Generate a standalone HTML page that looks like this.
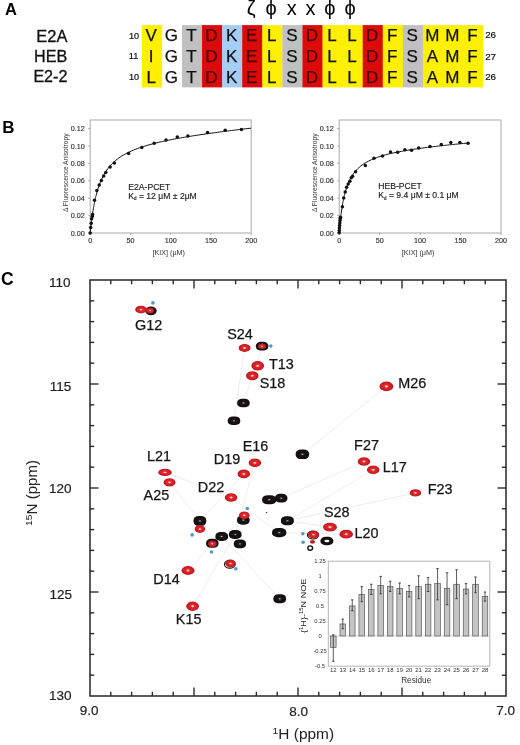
<!DOCTYPE html>
<html><head><meta charset="utf-8"><style>
html,body{margin:0;padding:0;background:#fff;width:520px;height:745px;overflow:hidden}
svg{display:block;filter:blur(0.45px)}
text{font-family:"Liberation Sans", sans-serif}
</style></head><body>
<svg width="520" height="745" viewBox="0 0 520 745">
<defs>
<radialGradient id="rg"><stop offset="0" stop-color="#fff4d0"/><stop offset="0.16" stop-color="#f4b0a0"/><stop offset="0.3" stop-color="#e42a30"/><stop offset="0.75" stop-color="#d41c24"/><stop offset="0.92" stop-color="#b8141c"/><stop offset="1" stop-color="#c83840"/></radialGradient>
<radialGradient id="bg"><stop offset="0" stop-color="#e0e0e0"/><stop offset="0.1" stop-color="#777"/><stop offset="0.25" stop-color="#221a1a"/><stop offset="0.45" stop-color="#181212"/><stop offset="1" stop-color="#120e0e"/></radialGradient>
</defs>
<rect width="520" height="745" fill="#fff"/>
<text x="4.95" y="14.70" font-size="16.5" font-weight="bold" fill="#000">A</text>
<rect x="141.80"  y="25.1" width="20.38" height="62.3" fill="#fff000"/>
<rect x="181.96"  y="25.1" width="20.38" height="62.3" fill="#c0c0c0"/>
<rect x="202.04"  y="25.1" width="20.38" height="62.3" fill="#dd0a0a"/>
<rect x="222.12"  y="25.1" width="20.38" height="62.3" fill="#a6cef5"/>
<rect x="242.20"  y="25.1" width="20.38" height="62.3" fill="#dd0a0a"/>
<rect x="262.28"  y="25.1" width="20.38" height="62.3" fill="#fff000"/>
<rect x="282.36"  y="25.1" width="20.38" height="62.3" fill="#c0c0c0"/>
<rect x="302.44"  y="25.1" width="20.38" height="62.3" fill="#dd0a0a"/>
<rect x="322.52"  y="25.1" width="20.38" height="62.3" fill="#fff000"/>
<rect x="342.60"  y="25.1" width="20.38" height="62.3" fill="#fff000"/>
<rect x="362.68"  y="25.1" width="20.38" height="62.3" fill="#dd0a0a"/>
<rect x="382.76"  y="25.1" width="20.38" height="62.3" fill="#fff000"/>
<rect x="402.84"  y="25.1" width="20.38" height="62.3" fill="#c0c0c0"/>
<rect x="422.92"  y="25.1" width="20.38" height="62.3" fill="#fff000"/>
<rect x="443.00"  y="25.1" width="20.38" height="62.3" fill="#fff000"/>
<rect x="463.08"  y="25.1" width="20.38" height="62.3" fill="#fff000"/>
<text x="151.24" y="41.3" font-size="17" text-anchor="middle" fill="#111" stroke="#111" stroke-width="0.25">V</text>
<text x="171.32" y="41.3" font-size="17" text-anchor="middle" fill="#111" stroke="#111" stroke-width="0.25">G</text>
<text x="191.40" y="41.3" font-size="17" text-anchor="middle" fill="#111" stroke="#111" stroke-width="0.25">T</text>
<text x="211.48" y="41.3" font-size="17" text-anchor="middle" fill="#440000" stroke="#440000" stroke-width="0.25">D</text>
<text x="231.56" y="41.3" font-size="17" text-anchor="middle" fill="#111" stroke="#111" stroke-width="0.25">K</text>
<text x="251.64" y="41.3" font-size="17" text-anchor="middle" fill="#440000" stroke="#440000" stroke-width="0.25">E</text>
<text x="271.72" y="41.3" font-size="17" text-anchor="middle" fill="#111" stroke="#111" stroke-width="0.25">L</text>
<text x="291.80" y="41.3" font-size="17" text-anchor="middle" fill="#111" stroke="#111" stroke-width="0.25">S</text>
<text x="311.88" y="41.3" font-size="17" text-anchor="middle" fill="#440000" stroke="#440000" stroke-width="0.25">D</text>
<text x="331.96" y="41.3" font-size="17" text-anchor="middle" fill="#111" stroke="#111" stroke-width="0.25">L</text>
<text x="352.04" y="41.3" font-size="17" text-anchor="middle" fill="#111" stroke="#111" stroke-width="0.25">L</text>
<text x="372.12" y="41.3" font-size="17" text-anchor="middle" fill="#440000" stroke="#440000" stroke-width="0.25">D</text>
<text x="392.20" y="41.3" font-size="17" text-anchor="middle" fill="#111" stroke="#111" stroke-width="0.25">F</text>
<text x="412.28" y="41.3" font-size="17" text-anchor="middle" fill="#111" stroke="#111" stroke-width="0.25">S</text>
<text x="432.36" y="41.3" font-size="17" text-anchor="middle" fill="#111" stroke="#111" stroke-width="0.25">M</text>
<text x="452.44" y="41.3" font-size="17" text-anchor="middle" fill="#111" stroke="#111" stroke-width="0.25">M</text>
<text x="472.52" y="41.3" font-size="17" text-anchor="middle" fill="#111" stroke="#111" stroke-width="0.25">F</text>
<text x="151.24" y="62.3" font-size="17" text-anchor="middle" fill="#111" stroke="#111" stroke-width="0.25">I</text>
<text x="171.32" y="62.3" font-size="17" text-anchor="middle" fill="#111" stroke="#111" stroke-width="0.25">G</text>
<text x="191.40" y="62.3" font-size="17" text-anchor="middle" fill="#111" stroke="#111" stroke-width="0.25">T</text>
<text x="211.48" y="62.3" font-size="17" text-anchor="middle" fill="#440000" stroke="#440000" stroke-width="0.25">D</text>
<text x="231.56" y="62.3" font-size="17" text-anchor="middle" fill="#111" stroke="#111" stroke-width="0.25">K</text>
<text x="251.64" y="62.3" font-size="17" text-anchor="middle" fill="#440000" stroke="#440000" stroke-width="0.25">E</text>
<text x="271.72" y="62.3" font-size="17" text-anchor="middle" fill="#111" stroke="#111" stroke-width="0.25">L</text>
<text x="291.80" y="62.3" font-size="17" text-anchor="middle" fill="#111" stroke="#111" stroke-width="0.25">S</text>
<text x="311.88" y="62.3" font-size="17" text-anchor="middle" fill="#440000" stroke="#440000" stroke-width="0.25">D</text>
<text x="331.96" y="62.3" font-size="17" text-anchor="middle" fill="#111" stroke="#111" stroke-width="0.25">L</text>
<text x="352.04" y="62.3" font-size="17" text-anchor="middle" fill="#111" stroke="#111" stroke-width="0.25">L</text>
<text x="372.12" y="62.3" font-size="17" text-anchor="middle" fill="#440000" stroke="#440000" stroke-width="0.25">D</text>
<text x="392.20" y="62.3" font-size="17" text-anchor="middle" fill="#111" stroke="#111" stroke-width="0.25">F</text>
<text x="412.28" y="62.3" font-size="17" text-anchor="middle" fill="#111" stroke="#111" stroke-width="0.25">S</text>
<text x="432.36" y="62.3" font-size="17" text-anchor="middle" fill="#111" stroke="#111" stroke-width="0.25">A</text>
<text x="452.44" y="62.3" font-size="17" text-anchor="middle" fill="#111" stroke="#111" stroke-width="0.25">M</text>
<text x="472.52" y="62.3" font-size="17" text-anchor="middle" fill="#111" stroke="#111" stroke-width="0.25">F</text>
<text x="151.24" y="83.3" font-size="17" text-anchor="middle" fill="#111" stroke="#111" stroke-width="0.25">L</text>
<text x="171.32" y="83.3" font-size="17" text-anchor="middle" fill="#111" stroke="#111" stroke-width="0.25">G</text>
<text x="191.40" y="83.3" font-size="17" text-anchor="middle" fill="#111" stroke="#111" stroke-width="0.25">T</text>
<text x="211.48" y="83.3" font-size="17" text-anchor="middle" fill="#440000" stroke="#440000" stroke-width="0.25">D</text>
<text x="231.56" y="83.3" font-size="17" text-anchor="middle" fill="#111" stroke="#111" stroke-width="0.25">K</text>
<text x="251.64" y="83.3" font-size="17" text-anchor="middle" fill="#440000" stroke="#440000" stroke-width="0.25">E</text>
<text x="271.72" y="83.3" font-size="17" text-anchor="middle" fill="#111" stroke="#111" stroke-width="0.25">L</text>
<text x="291.80" y="83.3" font-size="17" text-anchor="middle" fill="#111" stroke="#111" stroke-width="0.25">S</text>
<text x="311.88" y="83.3" font-size="17" text-anchor="middle" fill="#440000" stroke="#440000" stroke-width="0.25">D</text>
<text x="331.96" y="83.3" font-size="17" text-anchor="middle" fill="#111" stroke="#111" stroke-width="0.25">L</text>
<text x="352.04" y="83.3" font-size="17" text-anchor="middle" fill="#111" stroke="#111" stroke-width="0.25">L</text>
<text x="372.12" y="83.3" font-size="17" text-anchor="middle" fill="#440000" stroke="#440000" stroke-width="0.25">D</text>
<text x="392.20" y="83.3" font-size="17" text-anchor="middle" fill="#111" stroke="#111" stroke-width="0.25">F</text>
<text x="412.28" y="83.3" font-size="17" text-anchor="middle" fill="#111" stroke="#111" stroke-width="0.25">S</text>
<text x="432.36" y="83.3" font-size="17" text-anchor="middle" fill="#111" stroke="#111" stroke-width="0.25">A</text>
<text x="452.44" y="83.3" font-size="17" text-anchor="middle" fill="#111" stroke="#111" stroke-width="0.25">M</text>
<text x="472.52" y="83.3" font-size="17" text-anchor="middle" fill="#111" stroke="#111" stroke-width="0.25">F</text>
<text transform="translate(36.37,42.05) scale(1.027,1)" font-size="16" stroke="#111" stroke-width="0.3" fill="#111">E2A</text>
<text transform="translate(33.99,62.25) scale(1.012,1)" font-size="16" stroke="#111" stroke-width="0.3" fill="#111">HEB</text>
<text transform="translate(33.39,82.45) scale(1.006,1)" font-size="16" stroke="#111" stroke-width="0.3" fill="#111">E2-2</text>
<text x="128.95" y="38.65" font-size="9.2" stroke="#111" stroke-width="0.2" fill="#111">10</text>
<text x="128.75" y="59.35" font-size="9.2" stroke="#111" stroke-width="0.2" fill="#111">11</text>
<text x="128.95" y="80.35" font-size="9.2" stroke="#111" stroke-width="0.2" fill="#111">10</text>
<text x="485.15" y="38.40" font-size="9.8" stroke="#111" stroke-width="0.2" fill="#111">26</text>
<text x="485.15" y="59.50" font-size="9.8" stroke="#111" stroke-width="0.2" fill="#111">27</text>
<text x="485.15" y="80.40" font-size="9.8" stroke="#111" stroke-width="0.2" fill="#111">26</text>
<text x="251.2" y="15.0" font-size="20" text-anchor="middle">ζ</text>
<text x="271.2" y="15.0" font-size="20" text-anchor="middle">ϕ</text>
<text x="291.7" y="14.9" font-size="20" text-anchor="middle">x</text>
<text x="310.6" y="14.9" font-size="20" text-anchor="middle">x</text>
<text x="329.8" y="15.0" font-size="20" text-anchor="middle">ϕ</text>
<text x="350.0" y="15.0" font-size="20" text-anchor="middle">ϕ</text>
<text x="2.15" y="132.65" font-size="17" font-weight="bold" fill="#000">B</text>
<rect x="90.2" y="120" width="161.0" height="113" fill="none" stroke="#a8a8a8" stroke-width="1"/>
<line x1="90.20" y1="233" x2="90.20" y2="235" stroke="#a8a8a8" stroke-width="1"/>
<text x="90.20" y="243.0" font-size="7.2" text-anchor="middle" fill="#333" stroke="#333" stroke-width="0.15">0</text>
<line x1="130.45" y1="233" x2="130.45" y2="235" stroke="#a8a8a8" stroke-width="1"/>
<text x="130.45" y="243.0" font-size="7.2" text-anchor="middle" fill="#333" stroke="#333" stroke-width="0.15">50</text>
<line x1="170.70" y1="233" x2="170.70" y2="235" stroke="#a8a8a8" stroke-width="1"/>
<text x="170.70" y="243.0" font-size="7.2" text-anchor="middle" fill="#333" stroke="#333" stroke-width="0.15">100</text>
<line x1="210.95" y1="233" x2="210.95" y2="235" stroke="#a8a8a8" stroke-width="1"/>
<text x="210.95" y="243.0" font-size="7.2" text-anchor="middle" fill="#333" stroke="#333" stroke-width="0.15">150</text>
<line x1="251.20" y1="233" x2="251.20" y2="235" stroke="#a8a8a8" stroke-width="1"/>
<text x="251.20" y="243.0" font-size="7.2" text-anchor="middle" fill="#333" stroke="#333" stroke-width="0.15">200</text>
<line x1="88.2" y1="233.00" x2="90.2" y2="233.00" stroke="#a8a8a8" stroke-width="1"/>
<text x="84.80" y="235.60" font-size="7.2" text-anchor="end" fill="#333" stroke="#333" stroke-width="0.15">0.00</text>
<line x1="88.2" y1="215.60" x2="90.2" y2="215.60" stroke="#a8a8a8" stroke-width="1"/>
<text x="84.80" y="218.20" font-size="7.2" text-anchor="end" fill="#333" stroke="#333" stroke-width="0.15">0.02</text>
<line x1="88.2" y1="198.20" x2="90.2" y2="198.20" stroke="#a8a8a8" stroke-width="1"/>
<text x="84.80" y="200.80" font-size="7.2" text-anchor="end" fill="#333" stroke="#333" stroke-width="0.15">0.04</text>
<line x1="88.2" y1="180.80" x2="90.2" y2="180.80" stroke="#a8a8a8" stroke-width="1"/>
<text x="84.80" y="183.40" font-size="7.2" text-anchor="end" fill="#333" stroke="#333" stroke-width="0.15">0.06</text>
<line x1="88.2" y1="163.40" x2="90.2" y2="163.40" stroke="#a8a8a8" stroke-width="1"/>
<text x="84.80" y="166.00" font-size="7.2" text-anchor="end" fill="#333" stroke="#333" stroke-width="0.15">0.08</text>
<line x1="88.2" y1="146.00" x2="90.2" y2="146.00" stroke="#a8a8a8" stroke-width="1"/>
<text x="84.80" y="148.60" font-size="7.2" text-anchor="end" fill="#333" stroke="#333" stroke-width="0.15">0.10</text>
<line x1="88.2" y1="128.60" x2="90.2" y2="128.60" stroke="#a8a8a8" stroke-width="1"/>
<text x="84.80" y="131.20" font-size="7.2" text-anchor="end" fill="#333" stroke="#333" stroke-width="0.15">0.12</text>
<text x="168.70" y="255.0" font-size="7.2" text-anchor="middle" fill="#333">[KIX] (μM)</text>
<text transform="translate(67.5,172.8) rotate(-90)" font-size="7.0" textLength="78.5" lengthAdjust="spacingAndGlyphs" text-anchor="middle" fill="#333">Δ Fluorescence Anisotropy</text>
<polyline points="90.20,233.00 90.35,231.44 90.51,229.94 90.66,228.47 90.82,227.06 90.97,225.68 91.12,224.35 91.28,223.05 91.43,221.79 91.58,220.56 91.74,219.37 91.89,218.22 92.05,217.09 92.20,215.99 92.35,214.92 92.51,213.88 92.66,212.87 92.82,211.88 92.97,210.92 93.12,209.98 93.28,209.06 93.43,208.16 93.58,207.29 93.74,206.43 93.89,205.60 94.05,204.78 94.20,203.98 94.35,203.21 94.51,202.44 94.66,201.70 94.82,200.97 94.97,200.25 95.12,199.55 95.28,198.87 95.43,198.20 95.58,197.54 95.74,196.89 95.89,196.26 96.05,195.64 96.20,195.04 96.20,195.04 98.16,188.23 100.12,182.76 102.08,178.26 104.04,174.49 106.00,171.28 107.96,168.51 109.92,166.09 111.88,163.95 113.84,162.05 115.79,160.34 117.75,158.79 119.71,157.39 121.67,156.10 123.63,154.91 125.59,153.81 127.55,152.79 129.51,151.84 131.47,150.95 133.43,150.12 135.39,149.33 137.35,148.58 139.31,147.88 141.27,147.21 143.23,146.57 145.19,145.95 147.15,145.37 149.11,144.81 151.07,144.27 153.03,143.75 154.98,143.25 156.94,142.77 158.90,142.30 160.86,141.85 162.82,141.41 164.78,140.99 166.74,140.57 168.70,140.17 170.66,139.78 172.62,139.39 174.58,139.02 176.54,138.65 178.50,138.30 180.46,137.95 182.42,137.60 184.38,137.27 186.34,136.94 188.30,136.61 190.26,136.30 192.22,135.98 194.17,135.67 196.13,135.37 198.09,135.07 200.05,134.78 202.01,134.49 203.97,134.20 205.93,133.92 207.89,133.64 209.85,133.37 211.81,133.09 213.77,132.83 215.73,132.56 217.69,132.30 219.65,132.04 221.61,131.78 223.57,131.52 225.53,131.27 227.49,131.02 229.45,130.77 231.41,130.53 233.36,130.28 235.32,130.04 237.28,129.80 239.24,129.56 241.20,129.32 243.16,129.09 245.12,128.86 247.08,128.62 249.04,128.39 251.00,128.17" fill="none" stroke="#111" stroke-width="1"/>
<circle cx="90.2" cy="233" r="1.75" fill="#111"/>
<circle cx="90.7" cy="227.5" r="1.75" fill="#111"/>
<circle cx="91.2" cy="223.2" r="1.75" fill="#111"/>
<circle cx="91.6" cy="218.8" r="1.75" fill="#111"/>
<circle cx="92.3" cy="216.2" r="1.75" fill="#111"/>
<circle cx="92.6" cy="214.5" r="1.75" fill="#111"/>
<circle cx="94.5" cy="200.2" r="1.75" fill="#111"/>
<circle cx="96.8" cy="190.6" r="1.75" fill="#111"/>
<circle cx="99.2" cy="185.1" r="1.75" fill="#111"/>
<circle cx="101.4" cy="180.4" r="1.75" fill="#111"/>
<circle cx="103.7" cy="175.9" r="1.75" fill="#111"/>
<circle cx="105.8" cy="172.6" r="1.75" fill="#111"/>
<circle cx="110.1" cy="166.9" r="1.75" fill="#111"/>
<circle cx="114.4" cy="163.1" r="1.75" fill="#111"/>
<circle cx="128.6" cy="153.4" r="1.75" fill="#111"/>
<circle cx="141.8" cy="147.5" r="1.75" fill="#111"/>
<circle cx="154.2" cy="143.2" r="1.75" fill="#111"/>
<circle cx="166" cy="140.1" r="1.75" fill="#111"/>
<circle cx="177.3" cy="137.1" r="1.75" fill="#111"/>
<circle cx="187.9" cy="136" r="1.75" fill="#111"/>
<circle cx="207.6" cy="132.4" r="1.75" fill="#111"/>
<circle cx="225.2" cy="130.3" r="1.75" fill="#111"/>
<circle cx="241.4" cy="129.5" r="1.75" fill="#111"/>
<text x="128.3" y="189.6" font-size="8.6" fill="#222" stroke="#222" stroke-width="0.15">E2A-PCET</text>
<text x="128.3" y="198.6" font-size="8.6" fill="#222" stroke="#222" stroke-width="0.15">K<tspan font-size="4.5" dy="1.5">d</tspan><tspan dy="-1.5"> = 12 μM ± 2μM</tspan></text>
<rect x="339.2" y="120" width="161.8" height="113" fill="none" stroke="#a8a8a8" stroke-width="1"/>
<line x1="339.20" y1="233" x2="339.20" y2="235" stroke="#a8a8a8" stroke-width="1"/>
<text x="339.20" y="243.0" font-size="7.2" text-anchor="middle" fill="#333" stroke="#333" stroke-width="0.15">0</text>
<line x1="379.65" y1="233" x2="379.65" y2="235" stroke="#a8a8a8" stroke-width="1"/>
<text x="379.65" y="243.0" font-size="7.2" text-anchor="middle" fill="#333" stroke="#333" stroke-width="0.15">50</text>
<line x1="420.10" y1="233" x2="420.10" y2="235" stroke="#a8a8a8" stroke-width="1"/>
<text x="420.10" y="243.0" font-size="7.2" text-anchor="middle" fill="#333" stroke="#333" stroke-width="0.15">100</text>
<line x1="460.55" y1="233" x2="460.55" y2="235" stroke="#a8a8a8" stroke-width="1"/>
<text x="460.55" y="243.0" font-size="7.2" text-anchor="middle" fill="#333" stroke="#333" stroke-width="0.15">150</text>
<line x1="501.00" y1="233" x2="501.00" y2="235" stroke="#a8a8a8" stroke-width="1"/>
<text x="501.00" y="243.0" font-size="7.2" text-anchor="middle" fill="#333" stroke="#333" stroke-width="0.15">200</text>
<line x1="337.2" y1="233.00" x2="339.2" y2="233.00" stroke="#a8a8a8" stroke-width="1"/>
<text x="333.80" y="235.60" font-size="7.2" text-anchor="end" fill="#333" stroke="#333" stroke-width="0.15">0.00</text>
<line x1="337.2" y1="215.60" x2="339.2" y2="215.60" stroke="#a8a8a8" stroke-width="1"/>
<text x="333.80" y="218.20" font-size="7.2" text-anchor="end" fill="#333" stroke="#333" stroke-width="0.15">0.02</text>
<line x1="337.2" y1="198.20" x2="339.2" y2="198.20" stroke="#a8a8a8" stroke-width="1"/>
<text x="333.80" y="200.80" font-size="7.2" text-anchor="end" fill="#333" stroke="#333" stroke-width="0.15">0.04</text>
<line x1="337.2" y1="180.80" x2="339.2" y2="180.80" stroke="#a8a8a8" stroke-width="1"/>
<text x="333.80" y="183.40" font-size="7.2" text-anchor="end" fill="#333" stroke="#333" stroke-width="0.15">0.06</text>
<line x1="337.2" y1="163.40" x2="339.2" y2="163.40" stroke="#a8a8a8" stroke-width="1"/>
<text x="333.80" y="166.00" font-size="7.2" text-anchor="end" fill="#333" stroke="#333" stroke-width="0.15">0.08</text>
<line x1="337.2" y1="146.00" x2="339.2" y2="146.00" stroke="#a8a8a8" stroke-width="1"/>
<text x="333.80" y="148.60" font-size="7.2" text-anchor="end" fill="#333" stroke="#333" stroke-width="0.15">0.10</text>
<line x1="337.2" y1="128.60" x2="339.2" y2="128.60" stroke="#a8a8a8" stroke-width="1"/>
<text x="333.80" y="131.20" font-size="7.2" text-anchor="end" fill="#333" stroke="#333" stroke-width="0.15">0.12</text>
<text x="418.10" y="255.0" font-size="7.2" text-anchor="middle" fill="#333">[KIX] (μM)</text>
<text transform="translate(316.5,172.8) rotate(-90)" font-size="7.0" textLength="78.5" lengthAdjust="spacingAndGlyphs" text-anchor="middle" fill="#333">Δ Fluorescence Anisotropy</text>
<polyline points="339.20,233.00 339.35,231.08 339.51,229.25 339.66,227.49 339.82,225.81 339.97,224.19 340.12,222.64 340.28,221.14 340.43,219.71 340.58,218.32 340.74,216.99 340.89,215.71 341.05,214.47 341.20,213.27 341.35,212.12 341.51,211.00 341.66,209.92 341.82,208.88 341.97,207.87 342.12,206.89 342.28,205.94 342.43,205.02 342.58,204.12 342.74,203.25 342.89,202.41 343.05,201.59 343.20,200.80 343.35,200.03 343.51,199.28 343.66,198.54 343.82,197.83 343.97,197.14 344.12,196.46 344.28,195.80 344.43,195.16 344.58,194.54 344.74,193.93 344.89,193.33 345.05,192.75 345.20,192.18 345.20,192.18 346.76,187.11 348.31,183.02 349.87,179.63 351.42,176.79 352.98,174.36 354.53,172.25 356.09,170.41 357.65,168.79 359.20,167.34 360.76,166.04 362.31,164.87 363.87,163.80 365.42,162.82 366.98,161.93 368.54,161.10 370.09,160.33 371.65,159.62 373.20,158.95 374.76,158.33 376.31,157.74 377.87,157.18 379.43,156.66 380.98,156.16 382.54,155.69 384.09,155.24 385.65,154.82 387.20,154.41 388.76,154.01 390.32,153.64 391.87,153.28 393.43,152.93 394.98,152.59 396.54,152.27 398.09,151.96 399.65,151.65 401.21,151.36 402.76,151.07 404.32,150.80 405.87,150.53 407.43,150.27 408.98,150.01 410.54,149.76 412.09,149.52 413.65,149.28 415.21,149.05 416.76,148.82 418.32,148.60 419.87,148.38 421.43,148.17 422.98,147.96 424.54,147.75 426.10,147.55 427.65,147.35 429.21,147.16 430.76,146.97 432.32,146.78 433.87,146.59 435.43,146.41 436.99,146.23 438.54,146.05 440.10,145.87 441.65,145.70 443.21,145.53 444.76,145.36 446.32,145.19 447.88,145.03 449.43,144.86 450.99,144.70 452.54,144.54 454.10,144.38 455.65,144.22 457.21,144.07 458.77,143.92 460.32,143.76 461.88,143.61 463.43,143.46 464.99,143.31 466.54,143.17 468.10,143.02" fill="none" stroke="#111" stroke-width="1"/>
<circle cx="339.2" cy="232.7" r="1.75" fill="#111"/>
<circle cx="339.3" cy="230.5" r="1.75" fill="#111"/>
<circle cx="339.4" cy="228" r="1.75" fill="#111"/>
<circle cx="339.6" cy="225.5" r="1.75" fill="#111"/>
<circle cx="339.8" cy="223" r="1.75" fill="#111"/>
<circle cx="340" cy="220.5" r="1.75" fill="#111"/>
<circle cx="340.3" cy="218.5" r="1.75" fill="#111"/>
<circle cx="340.5" cy="217.2" r="1.75" fill="#111"/>
<circle cx="342.4" cy="206.7" r="1.75" fill="#111"/>
<circle cx="343.7" cy="198.1" r="1.75" fill="#111"/>
<circle cx="345.2" cy="191.9" r="1.75" fill="#111"/>
<circle cx="346.6" cy="187.3" r="1.75" fill="#111"/>
<circle cx="348.2" cy="184" r="1.75" fill="#111"/>
<circle cx="349.9" cy="181.3" r="1.75" fill="#111"/>
<circle cx="351.3" cy="177.8" r="1.75" fill="#111"/>
<circle cx="352.6" cy="176.2" r="1.75" fill="#111"/>
<circle cx="355.6" cy="171.8" r="1.75" fill="#111"/>
<circle cx="365.3" cy="165.4" r="1.75" fill="#111"/>
<circle cx="374" cy="158.2" r="1.75" fill="#111"/>
<circle cx="382.5" cy="156.1" r="1.75" fill="#111"/>
<circle cx="390.5" cy="151.9" r="1.75" fill="#111"/>
<circle cx="397.7" cy="152.3" r="1.75" fill="#111"/>
<circle cx="404.9" cy="149.8" r="1.75" fill="#111"/>
<circle cx="411.6" cy="150.2" r="1.75" fill="#111"/>
<circle cx="418.6" cy="148.1" r="1.75" fill="#111"/>
<circle cx="430" cy="146.4" r="1.75" fill="#111"/>
<circle cx="441.3" cy="144.5" r="1.75" fill="#111"/>
<circle cx="450.8" cy="142.6" r="1.75" fill="#111"/>
<circle cx="459.9" cy="142.6" r="1.75" fill="#111"/>
<circle cx="468.1" cy="143.2" r="1.75" fill="#111"/>
<text x="378.3" y="189.3" font-size="8.6" fill="#222" stroke="#222" stroke-width="0.15">HEB-PCET</text>
<text x="378.3" y="198.3" font-size="8.6" fill="#222" stroke="#222" stroke-width="0.15">K<tspan font-size="4.5" dy="1.5">d</tspan><tspan dy="-1.5"> = 9.4 μM ± 0.1 μM</tspan></text>
<text x="1.10" y="284.55" font-size="17.5" font-weight="bold" fill="#000">C</text>
<line x1="244.6" y1="348" x2="234" y2="420.8" stroke="#e8e8e8" stroke-width="0.8"/>
<line x1="262.3" y1="346.2" x2="243.4" y2="403" stroke="#e8e8e8" stroke-width="0.8"/>
<line x1="386.4" y1="386.4" x2="302.4" y2="454.3" stroke="#e8e8e8" stroke-width="0.8"/>
<line x1="364" y1="461.5" x2="281.2" y2="498.2" stroke="#e8e8e8" stroke-width="0.8"/>
<line x1="373.2" y1="469.8" x2="287.4" y2="520.8" stroke="#e8e8e8" stroke-width="0.8"/>
<line x1="415.4" y1="492.9" x2="287.4" y2="520.8" stroke="#e8e8e8" stroke-width="0.8"/>
<line x1="330" y1="527.1" x2="287.4" y2="520.8" stroke="#e8e8e8" stroke-width="0.8"/>
<line x1="346.2" y1="534.2" x2="279.2" y2="532.6" stroke="#e8e8e8" stroke-width="0.8"/>
<line x1="231.1" y1="497.5" x2="279.2" y2="532.6" stroke="#e8e8e8" stroke-width="0.8"/>
<line x1="254.9" y1="462.8" x2="235.2" y2="534.5" stroke="#e8e8e8" stroke-width="0.8"/>
<line x1="243.8" y1="473.9" x2="199.9" y2="521" stroke="#e8e8e8" stroke-width="0.8"/>
<line x1="165" y1="472.4" x2="231.1" y2="497.5" stroke="#e8e8e8" stroke-width="0.8"/>
<line x1="169.5" y1="482.4" x2="199.9" y2="521" stroke="#e8e8e8" stroke-width="0.8"/>
<line x1="188" y1="570.5" x2="212.3" y2="543.3" stroke="#e8e8e8" stroke-width="0.8"/>
<line x1="192.6" y1="606.2" x2="235.2" y2="534.5" stroke="#e8e8e8" stroke-width="0.8"/>
<line x1="221.7" y1="536.5" x2="279.7" y2="598.8" stroke="#e8e8e8" stroke-width="0.8"/>
<rect x="237.18" y="398.76" width="12.44" height="8.48" rx="4.98" ry="3.60" fill="url(#bg)"/>
<rect x="227.78" y="416.56" width="12.44" height="8.48" rx="4.98" ry="3.60" fill="url(#bg)"/>
<rect x="295.67" y="449.53" width="13.46" height="9.54" rx="5.39" ry="4.05" fill="url(#bg)"/>
<rect x="236.98" y="515.54" width="12.65" height="9.12" rx="5.06" ry="3.87" fill="url(#bg)"/>
<rect x="193.58" y="516.12" width="12.65" height="9.75" rx="5.06" ry="4.14" fill="url(#bg)"/>
<rect x="215.38" y="532.05" width="12.65" height="8.90" rx="5.06" ry="3.78" fill="url(#bg)"/>
<rect x="228.88" y="530.05" width="12.65" height="8.90" rx="5.06" ry="3.78" fill="url(#bg)"/>
<rect x="233.78" y="539.45" width="12.24" height="8.90" rx="4.90" ry="3.78" fill="url(#bg)"/>
<rect x="206.08" y="538.85" width="12.44" height="8.90" rx="4.98" ry="3.78" fill="url(#bg)"/>
<rect x="262.16" y="495.14" width="14.08" height="9.12" rx="5.63" ry="3.87" fill="url(#bg)"/>
<rect x="274.98" y="493.85" width="12.44" height="8.69" rx="4.98" ry="3.69" fill="url(#bg)"/>
<rect x="280.97" y="516.24" width="12.85" height="9.12" rx="5.14" ry="3.87" fill="url(#bg)"/>
<rect x="272.06" y="528.04" width="14.28" height="9.12" rx="5.71" ry="3.87" fill="url(#bg)"/>
<rect x="273.38" y="594.24" width="12.65" height="9.12" rx="5.06" ry="3.87" fill="url(#bg)"/>
<rect x="255.88" y="341.85" width="12.44" height="8.69" rx="4.98" ry="3.69" fill="url(#bg)"/>
<rect x="320.47" y="536.87" width="12.85" height="8.27" rx="5.14" ry="3.51" fill="url(#bg)"/>
<ellipse cx="151.0" cy="310.8" rx="5.7" ry="4.4" fill="#140f0f"/>
<ellipse cx="150.0" cy="310.6" rx="4.00" ry="2.90" fill="url(#rg)"/>
<ellipse cx="141.0" cy="309.6" rx="5.80" ry="3.90" fill="url(#rg)"/>
<ellipse cx="262.0" cy="346.2" rx="3.90" ry="2.70" fill="url(#rg)"/>
<ellipse cx="313.0" cy="535.0" rx="5.6" ry="4.0" fill="none" stroke="#1a1010" stroke-width="1.1"/>
<ellipse cx="229.8" cy="564.2" rx="5.4" ry="3.9" fill="none" stroke="#1a1010" stroke-width="1.1"/>
<ellipse cx="244.6" cy="348" rx="6.00" ry="3.90" fill="url(#rg)"/>
<ellipse cx="257.7" cy="365.8" rx="6.40" ry="4.80" fill="url(#rg)"/>
<ellipse cx="252.3" cy="375.7" rx="6.30" ry="4.50" fill="url(#rg)"/>
<ellipse cx="386.4" cy="386.4" rx="6.90" ry="4.90" fill="url(#rg)"/>
<ellipse cx="254.9" cy="462.8" rx="6.30" ry="4.30" fill="url(#rg)"/>
<ellipse cx="243.8" cy="473.9" rx="6.30" ry="4.30" fill="url(#rg)"/>
<ellipse cx="364" cy="461.5" rx="6.30" ry="4.30" fill="url(#rg)"/>
<ellipse cx="373.2" cy="469.8" rx="6.30" ry="4.30" fill="url(#rg)"/>
<ellipse cx="415.4" cy="492.9" rx="5.80" ry="3.70" fill="url(#rg)"/>
<ellipse cx="165" cy="472.4" rx="6.80" ry="3.70" fill="url(#rg)"/>
<ellipse cx="169.5" cy="482.4" rx="6.00" ry="4.10" fill="url(#rg)"/>
<ellipse cx="231.1" cy="497.5" rx="6.30" ry="4.30" fill="url(#rg)"/>
<ellipse cx="244.3" cy="515.3" rx="5.30" ry="3.90" fill="url(#rg)"/>
<ellipse cx="199.9" cy="529.1" rx="5.30" ry="3.90" fill="url(#rg)"/>
<ellipse cx="212.3" cy="543.8" rx="4.30" ry="3.10" fill="url(#rg)"/>
<ellipse cx="330" cy="527.1" rx="7.00" ry="4.40" fill="url(#rg)"/>
<ellipse cx="346.2" cy="534.2" rx="6.80" ry="4.40" fill="url(#rg)"/>
<ellipse cx="313.5" cy="534.6" rx="5.50" ry="3.90" fill="url(#rg)"/>
<ellipse cx="188" cy="570.5" rx="6.60" ry="4.40" fill="url(#rg)"/>
<ellipse cx="192.6" cy="606.2" rx="6.40" ry="4.70" fill="url(#rg)"/>
<ellipse cx="230.5" cy="563.5" rx="5.30" ry="3.90" fill="url(#rg)"/>
<ellipse cx="312.5" cy="541.9" rx="2.6" ry="1.8" fill="#c02020"/>
<ellipse cx="310.2" cy="548.1" rx="2.4" ry="2.2" fill="none" stroke="#111" stroke-width="1.4"/>
<ellipse cx="326.9" cy="541" rx="2.5" ry="1.2" fill="#fff"/>
<circle cx="152.9" cy="302.9" r="1.8" fill="#4f98cc"/>
<circle cx="270.8" cy="346" r="1.8" fill="#4f98cc"/>
<circle cx="247.3" cy="508.5" r="1.8" fill="#4f98cc"/>
<circle cx="192.1" cy="534.9" r="1.8" fill="#4f98cc"/>
<circle cx="302.8" cy="533.8" r="1.8" fill="#4f98cc"/>
<circle cx="303.1" cy="542.3" r="1.8" fill="#4f98cc"/>
<circle cx="235.8" cy="568.8" r="1.8" fill="#4f98cc"/>
<circle cx="211.5" cy="552" r="1.8" fill="#4f98cc"/>
<circle cx="266.5" cy="512.6" r="0.7" fill="#111"/>
<text x="135.05" y="329.80" font-size="14.4" stroke="#151515" stroke-width="0.25" fill="#151515">G12</text>
<text x="227.15" y="338.50" font-size="14.4" stroke="#151515" stroke-width="0.25" fill="#151515">S24</text>
<text x="269.00" y="369.40" font-size="14.4" stroke="#151515" stroke-width="0.25" fill="#151515">T13</text>
<text x="259.65" y="387.60" font-size="14.4" stroke="#151515" stroke-width="0.25" fill="#151515">S18</text>
<text x="398.15" y="387.90" font-size="14.4" stroke="#151515" stroke-width="0.25" fill="#151515">M26</text>
<text x="242.75" y="450.85" font-size="14.4" stroke="#151515" stroke-width="0.25" fill="#151515">E16</text>
<text x="213.85" y="464.15" font-size="14.4" stroke="#151515" stroke-width="0.25" fill="#151515">D19</text>
<text x="354.10" y="449.60" font-size="14.4" stroke="#151515" stroke-width="0.25" fill="#151515">F27</text>
<text x="382.85" y="471.75" font-size="14.4" stroke="#151515" stroke-width="0.25" fill="#151515">L17</text>
<text x="146.95" y="461.20" font-size="14.4" stroke="#151515" stroke-width="0.25" fill="#151515">L21</text>
<text x="143.60" y="500.05" font-size="14.4" stroke="#151515" stroke-width="0.25" fill="#151515">A25</text>
<text x="197.85" y="492.40" font-size="14.4" stroke="#151515" stroke-width="0.25" fill="#151515">D22</text>
<text x="427.75" y="494.05" font-size="14.4" stroke="#151515" stroke-width="0.25" fill="#151515">F23</text>
<text x="323.95" y="516.60" font-size="14.4" stroke="#151515" stroke-width="0.25" fill="#151515">S28</text>
<text x="354.60" y="537.80" font-size="14.4" stroke="#151515" stroke-width="0.25" fill="#151515">L20</text>
<text x="153.35" y="583.95" font-size="14.4" stroke="#151515" stroke-width="0.25" fill="#151515">D14</text>
<text x="175.80" y="623.75" font-size="14.4" stroke="#151515" stroke-width="0.25" fill="#151515">K15</text>
<rect x="328.3" y="561.2" width="161.5" height="105.0" fill="#fff" stroke="#b4b4b4" stroke-width="1"/>
<line x1="328.3" y1="636" x2="489.8" y2="636" stroke="#c8c8c8" stroke-width="0.8"/>
<rect x="330.50" y="636.00" width="5.6" height="11.44" fill="#c4c4c4" stroke="#444" stroke-width="0.6"/>
<line x1="333.30" y1="634.80" x2="333.30" y2="661.28" stroke="#333" stroke-width="0.8"/>
<line x1="332.10" y1="634.80" x2="334.50" y2="634.80" stroke="#333" stroke-width="0.9"/>
<line x1="332.10" y1="661.28" x2="334.50" y2="661.28" stroke="#333" stroke-width="0.9"/>
<text x="333.30" y="671.9" font-size="6.0" text-anchor="middle" fill="#333">12</text>
<rect x="339.98" y="623.96" width="5.6" height="12.04" fill="#c4c4c4" stroke="#444" stroke-width="0.6"/>
<line x1="342.78" y1="619.14" x2="342.78" y2="628.78" stroke="#333" stroke-width="0.8"/>
<line x1="341.58" y1="619.14" x2="343.98" y2="619.14" stroke="#333" stroke-width="0.9"/>
<line x1="341.58" y1="628.78" x2="343.98" y2="628.78" stroke="#333" stroke-width="0.9"/>
<text x="342.78" y="671.9" font-size="6.0" text-anchor="middle" fill="#333">13</text>
<rect x="349.46" y="605.90" width="5.6" height="30.10" fill="#c4c4c4" stroke="#444" stroke-width="0.6"/>
<line x1="352.26" y1="599.88" x2="352.26" y2="610.72" stroke="#333" stroke-width="0.8"/>
<line x1="351.06" y1="599.88" x2="353.46" y2="599.88" stroke="#333" stroke-width="0.9"/>
<line x1="351.06" y1="610.72" x2="353.46" y2="610.72" stroke="#333" stroke-width="0.9"/>
<text x="352.26" y="671.9" font-size="6.0" text-anchor="middle" fill="#333">14</text>
<rect x="358.94" y="594.46" width="5.6" height="41.54" fill="#c4c4c4" stroke="#444" stroke-width="0.6"/>
<line x1="361.74" y1="586.64" x2="361.74" y2="601.69" stroke="#333" stroke-width="0.8"/>
<line x1="360.54" y1="586.64" x2="362.94" y2="586.64" stroke="#333" stroke-width="0.9"/>
<line x1="360.54" y1="601.69" x2="362.94" y2="601.69" stroke="#333" stroke-width="0.9"/>
<text x="361.74" y="671.9" font-size="6.0" text-anchor="middle" fill="#333">15</text>
<rect x="368.42" y="589.65" width="5.6" height="46.35" fill="#c4c4c4" stroke="#444" stroke-width="0.6"/>
<line x1="371.22" y1="584.23" x2="371.22" y2="594.46" stroke="#333" stroke-width="0.8"/>
<line x1="370.02" y1="584.23" x2="372.42" y2="584.23" stroke="#333" stroke-width="0.9"/>
<line x1="370.02" y1="594.46" x2="372.42" y2="594.46" stroke="#333" stroke-width="0.9"/>
<text x="371.22" y="671.9" font-size="6.0" text-anchor="middle" fill="#333">16</text>
<rect x="377.90" y="585.43" width="5.6" height="50.57" fill="#c4c4c4" stroke="#444" stroke-width="0.6"/>
<line x1="380.70" y1="576.40" x2="380.70" y2="593.86" stroke="#333" stroke-width="0.8"/>
<line x1="379.50" y1="576.40" x2="381.90" y2="576.40" stroke="#333" stroke-width="0.9"/>
<line x1="379.50" y1="593.86" x2="381.90" y2="593.86" stroke="#333" stroke-width="0.9"/>
<text x="380.70" y="671.9" font-size="6.0" text-anchor="middle" fill="#333">17</text>
<rect x="387.38" y="586.64" width="5.6" height="49.36" fill="#c4c4c4" stroke="#444" stroke-width="0.6"/>
<line x1="390.18" y1="581.22" x2="390.18" y2="591.45" stroke="#333" stroke-width="0.8"/>
<line x1="388.98" y1="581.22" x2="391.38" y2="581.22" stroke="#333" stroke-width="0.9"/>
<line x1="388.98" y1="591.45" x2="391.38" y2="591.45" stroke="#333" stroke-width="0.9"/>
<text x="390.18" y="671.9" font-size="6.0" text-anchor="middle" fill="#333">18</text>
<rect x="396.86" y="588.44" width="5.6" height="47.56" fill="#c4c4c4" stroke="#444" stroke-width="0.6"/>
<line x1="399.66" y1="583.02" x2="399.66" y2="593.86" stroke="#333" stroke-width="0.8"/>
<line x1="398.46" y1="583.02" x2="400.86" y2="583.02" stroke="#333" stroke-width="0.9"/>
<line x1="398.46" y1="593.86" x2="400.86" y2="593.86" stroke="#333" stroke-width="0.9"/>
<text x="399.66" y="671.9" font-size="6.0" text-anchor="middle" fill="#333">19</text>
<rect x="406.34" y="591.45" width="5.6" height="44.55" fill="#c4c4c4" stroke="#444" stroke-width="0.6"/>
<line x1="409.14" y1="585.43" x2="409.14" y2="596.87" stroke="#333" stroke-width="0.8"/>
<line x1="407.94" y1="585.43" x2="410.34" y2="585.43" stroke="#333" stroke-width="0.9"/>
<line x1="407.94" y1="596.87" x2="410.34" y2="596.87" stroke="#333" stroke-width="0.9"/>
<text x="409.14" y="671.9" font-size="6.0" text-anchor="middle" fill="#333">20</text>
<rect x="415.82" y="586.64" width="5.6" height="49.36" fill="#c4c4c4" stroke="#444" stroke-width="0.6"/>
<line x1="418.62" y1="575.80" x2="418.62" y2="598.68" stroke="#333" stroke-width="0.8"/>
<line x1="417.42" y1="575.80" x2="419.82" y2="575.80" stroke="#333" stroke-width="0.9"/>
<line x1="417.42" y1="598.68" x2="419.82" y2="598.68" stroke="#333" stroke-width="0.9"/>
<text x="418.62" y="671.9" font-size="6.0" text-anchor="middle" fill="#333">21</text>
<rect x="425.30" y="584.23" width="5.6" height="51.77" fill="#c4c4c4" stroke="#444" stroke-width="0.6"/>
<line x1="428.10" y1="577.61" x2="428.10" y2="591.45" stroke="#333" stroke-width="0.8"/>
<line x1="426.90" y1="577.61" x2="429.30" y2="577.61" stroke="#333" stroke-width="0.9"/>
<line x1="426.90" y1="591.45" x2="429.30" y2="591.45" stroke="#333" stroke-width="0.9"/>
<text x="428.10" y="671.9" font-size="6.0" text-anchor="middle" fill="#333">22</text>
<rect x="434.78" y="583.63" width="5.6" height="52.37" fill="#c4c4c4" stroke="#444" stroke-width="0.6"/>
<line x1="437.58" y1="568.58" x2="437.58" y2="599.88" stroke="#333" stroke-width="0.8"/>
<line x1="436.38" y1="568.58" x2="438.78" y2="568.58" stroke="#333" stroke-width="0.9"/>
<line x1="436.38" y1="599.88" x2="438.78" y2="599.88" stroke="#333" stroke-width="0.9"/>
<text x="437.58" y="671.9" font-size="6.0" text-anchor="middle" fill="#333">23</text>
<rect x="444.26" y="588.44" width="5.6" height="47.56" fill="#c4c4c4" stroke="#444" stroke-width="0.6"/>
<line x1="447.06" y1="572.79" x2="447.06" y2="604.70" stroke="#333" stroke-width="0.8"/>
<line x1="445.86" y1="572.79" x2="448.26" y2="572.79" stroke="#333" stroke-width="0.9"/>
<line x1="445.86" y1="604.70" x2="448.26" y2="604.70" stroke="#333" stroke-width="0.9"/>
<text x="447.06" y="671.9" font-size="6.0" text-anchor="middle" fill="#333">24</text>
<rect x="453.74" y="584.23" width="5.6" height="51.77" fill="#c4c4c4" stroke="#444" stroke-width="0.6"/>
<line x1="456.54" y1="569.78" x2="456.54" y2="598.68" stroke="#333" stroke-width="0.8"/>
<line x1="455.34" y1="569.78" x2="457.74" y2="569.78" stroke="#333" stroke-width="0.9"/>
<line x1="455.34" y1="598.68" x2="457.74" y2="598.68" stroke="#333" stroke-width="0.9"/>
<text x="456.54" y="671.9" font-size="6.0" text-anchor="middle" fill="#333">25</text>
<rect x="463.22" y="589.04" width="5.6" height="46.96" fill="#c4c4c4" stroke="#444" stroke-width="0.6"/>
<line x1="466.02" y1="583.63" x2="466.02" y2="593.86" stroke="#333" stroke-width="0.8"/>
<line x1="464.82" y1="583.63" x2="467.22" y2="583.63" stroke="#333" stroke-width="0.9"/>
<line x1="464.82" y1="593.86" x2="467.22" y2="593.86" stroke="#333" stroke-width="0.9"/>
<text x="466.02" y="671.9" font-size="6.0" text-anchor="middle" fill="#333">26</text>
<rect x="472.70" y="584.23" width="5.6" height="51.77" fill="#c4c4c4" stroke="#444" stroke-width="0.6"/>
<line x1="475.50" y1="577.00" x2="475.50" y2="592.66" stroke="#333" stroke-width="0.8"/>
<line x1="474.30" y1="577.00" x2="476.70" y2="577.00" stroke="#333" stroke-width="0.9"/>
<line x1="474.30" y1="592.66" x2="476.70" y2="592.66" stroke="#333" stroke-width="0.9"/>
<text x="475.50" y="671.9" font-size="6.0" text-anchor="middle" fill="#333">27</text>
<rect x="482.18" y="596.27" width="5.6" height="39.73" fill="#c4c4c4" stroke="#444" stroke-width="0.6"/>
<line x1="484.98" y1="592.05" x2="484.98" y2="601.08" stroke="#333" stroke-width="0.8"/>
<line x1="483.78" y1="592.05" x2="486.18" y2="592.05" stroke="#333" stroke-width="0.9"/>
<line x1="483.78" y1="601.08" x2="486.18" y2="601.08" stroke="#333" stroke-width="0.9"/>
<text x="484.98" y="671.9" font-size="6.0" text-anchor="middle" fill="#333">28</text>
<text x="320.0" y="562.75" font-size="5.8" text-anchor="middle" fill="#333">1.25</text>
<text x="320.0" y="577.80" font-size="5.8" text-anchor="middle" fill="#333">1</text>
<text x="320.0" y="592.85" font-size="5.8" text-anchor="middle" fill="#333">0.75</text>
<text x="320.0" y="607.90" font-size="5.8" text-anchor="middle" fill="#333">0.5</text>
<text x="320.0" y="622.95" font-size="5.8" text-anchor="middle" fill="#333">0.25</text>
<text x="320.0" y="638.00" font-size="5.8" text-anchor="middle" fill="#333">0</text>
<text x="320.0" y="653.05" font-size="5.8" text-anchor="middle" fill="#333">-0.25</text>
<text x="320.0" y="668.10" font-size="5.8" text-anchor="middle" fill="#333">-0.5</text>
<text x="416.2" y="682.8" font-size="8.2" text-anchor="middle" fill="#333">Residue</text>
<text transform="translate(306.0,605.8) rotate(-90)" font-size="7.8" textLength="54.5" lengthAdjust="spacingAndGlyphs" text-anchor="middle" fill="#222">{<tspan font-size="5" dy="-3">1</tspan><tspan dy="3">H}-</tspan><tspan font-size="5" dy="-3">15</tspan><tspan dy="3">N NOE</tspan></text>
<rect x="90" y="280" width="416" height="416" fill="none" stroke="#333" stroke-width="1.6"/>
<line x1="110.80" y1="280" x2="110.80" y2="284.2" stroke="#2a2a2a" stroke-width="1.4"/>
<line x1="110.80" y1="696" x2="110.80" y2="691.8" stroke="#2a2a2a" stroke-width="1.4"/>
<line x1="90" y1="300.80" x2="94.2" y2="300.80" stroke="#2a2a2a" stroke-width="1.4"/>
<line x1="506" y1="300.80" x2="501.8" y2="300.80" stroke="#2a2a2a" stroke-width="1.4"/>
<line x1="131.60" y1="280" x2="131.60" y2="284.2" stroke="#2a2a2a" stroke-width="1.4"/>
<line x1="131.60" y1="696" x2="131.60" y2="691.8" stroke="#2a2a2a" stroke-width="1.4"/>
<line x1="90" y1="321.60" x2="94.2" y2="321.60" stroke="#2a2a2a" stroke-width="1.4"/>
<line x1="506" y1="321.60" x2="501.8" y2="321.60" stroke="#2a2a2a" stroke-width="1.4"/>
<line x1="152.40" y1="280" x2="152.40" y2="284.2" stroke="#2a2a2a" stroke-width="1.4"/>
<line x1="152.40" y1="696" x2="152.40" y2="691.8" stroke="#2a2a2a" stroke-width="1.4"/>
<line x1="90" y1="342.40" x2="94.2" y2="342.40" stroke="#2a2a2a" stroke-width="1.4"/>
<line x1="506" y1="342.40" x2="501.8" y2="342.40" stroke="#2a2a2a" stroke-width="1.4"/>
<line x1="173.20" y1="280" x2="173.20" y2="284.2" stroke="#2a2a2a" stroke-width="1.4"/>
<line x1="173.20" y1="696" x2="173.20" y2="691.8" stroke="#2a2a2a" stroke-width="1.4"/>
<line x1="90" y1="363.20" x2="94.2" y2="363.20" stroke="#2a2a2a" stroke-width="1.4"/>
<line x1="506" y1="363.20" x2="501.8" y2="363.20" stroke="#2a2a2a" stroke-width="1.4"/>
<line x1="194.00" y1="280" x2="194.00" y2="288.5" stroke="#2a2a2a" stroke-width="1.4"/>
<line x1="194.00" y1="696" x2="194.00" y2="687.5" stroke="#2a2a2a" stroke-width="1.4"/>
<line x1="90" y1="384.00" x2="98.5" y2="384.00" stroke="#2a2a2a" stroke-width="1.4"/>
<line x1="506" y1="384.00" x2="497.5" y2="384.00" stroke="#2a2a2a" stroke-width="1.4"/>
<line x1="214.80" y1="280" x2="214.80" y2="284.2" stroke="#2a2a2a" stroke-width="1.4"/>
<line x1="214.80" y1="696" x2="214.80" y2="691.8" stroke="#2a2a2a" stroke-width="1.4"/>
<line x1="90" y1="404.80" x2="94.2" y2="404.80" stroke="#2a2a2a" stroke-width="1.4"/>
<line x1="506" y1="404.80" x2="501.8" y2="404.80" stroke="#2a2a2a" stroke-width="1.4"/>
<line x1="235.60" y1="280" x2="235.60" y2="284.2" stroke="#2a2a2a" stroke-width="1.4"/>
<line x1="235.60" y1="696" x2="235.60" y2="691.8" stroke="#2a2a2a" stroke-width="1.4"/>
<line x1="90" y1="425.60" x2="94.2" y2="425.60" stroke="#2a2a2a" stroke-width="1.4"/>
<line x1="506" y1="425.60" x2="501.8" y2="425.60" stroke="#2a2a2a" stroke-width="1.4"/>
<line x1="256.40" y1="280" x2="256.40" y2="284.2" stroke="#2a2a2a" stroke-width="1.4"/>
<line x1="256.40" y1="696" x2="256.40" y2="691.8" stroke="#2a2a2a" stroke-width="1.4"/>
<line x1="90" y1="446.40" x2="94.2" y2="446.40" stroke="#2a2a2a" stroke-width="1.4"/>
<line x1="506" y1="446.40" x2="501.8" y2="446.40" stroke="#2a2a2a" stroke-width="1.4"/>
<line x1="277.20" y1="280" x2="277.20" y2="284.2" stroke="#2a2a2a" stroke-width="1.4"/>
<line x1="277.20" y1="696" x2="277.20" y2="691.8" stroke="#2a2a2a" stroke-width="1.4"/>
<line x1="90" y1="467.20" x2="94.2" y2="467.20" stroke="#2a2a2a" stroke-width="1.4"/>
<line x1="506" y1="467.20" x2="501.8" y2="467.20" stroke="#2a2a2a" stroke-width="1.4"/>
<line x1="298.00" y1="280" x2="298.00" y2="288.5" stroke="#2a2a2a" stroke-width="1.4"/>
<line x1="298.00" y1="696" x2="298.00" y2="687.5" stroke="#2a2a2a" stroke-width="1.4"/>
<line x1="90" y1="488.00" x2="98.5" y2="488.00" stroke="#2a2a2a" stroke-width="1.4"/>
<line x1="506" y1="488.00" x2="497.5" y2="488.00" stroke="#2a2a2a" stroke-width="1.4"/>
<line x1="318.80" y1="280" x2="318.80" y2="284.2" stroke="#2a2a2a" stroke-width="1.4"/>
<line x1="318.80" y1="696" x2="318.80" y2="691.8" stroke="#2a2a2a" stroke-width="1.4"/>
<line x1="90" y1="508.80" x2="94.2" y2="508.80" stroke="#2a2a2a" stroke-width="1.4"/>
<line x1="506" y1="508.80" x2="501.8" y2="508.80" stroke="#2a2a2a" stroke-width="1.4"/>
<line x1="339.60" y1="280" x2="339.60" y2="284.2" stroke="#2a2a2a" stroke-width="1.4"/>
<line x1="339.60" y1="696" x2="339.60" y2="691.8" stroke="#2a2a2a" stroke-width="1.4"/>
<line x1="90" y1="529.60" x2="94.2" y2="529.60" stroke="#2a2a2a" stroke-width="1.4"/>
<line x1="506" y1="529.60" x2="501.8" y2="529.60" stroke="#2a2a2a" stroke-width="1.4"/>
<line x1="360.40" y1="280" x2="360.40" y2="284.2" stroke="#2a2a2a" stroke-width="1.4"/>
<line x1="360.40" y1="696" x2="360.40" y2="691.8" stroke="#2a2a2a" stroke-width="1.4"/>
<line x1="90" y1="550.40" x2="94.2" y2="550.40" stroke="#2a2a2a" stroke-width="1.4"/>
<line x1="506" y1="550.40" x2="501.8" y2="550.40" stroke="#2a2a2a" stroke-width="1.4"/>
<line x1="381.20" y1="280" x2="381.20" y2="284.2" stroke="#2a2a2a" stroke-width="1.4"/>
<line x1="381.20" y1="696" x2="381.20" y2="691.8" stroke="#2a2a2a" stroke-width="1.4"/>
<line x1="90" y1="571.20" x2="94.2" y2="571.20" stroke="#2a2a2a" stroke-width="1.4"/>
<line x1="506" y1="571.20" x2="501.8" y2="571.20" stroke="#2a2a2a" stroke-width="1.4"/>
<line x1="402.00" y1="280" x2="402.00" y2="288.5" stroke="#2a2a2a" stroke-width="1.4"/>
<line x1="402.00" y1="696" x2="402.00" y2="687.5" stroke="#2a2a2a" stroke-width="1.4"/>
<line x1="90" y1="592.00" x2="98.5" y2="592.00" stroke="#2a2a2a" stroke-width="1.4"/>
<line x1="506" y1="592.00" x2="497.5" y2="592.00" stroke="#2a2a2a" stroke-width="1.4"/>
<line x1="422.80" y1="280" x2="422.80" y2="284.2" stroke="#2a2a2a" stroke-width="1.4"/>
<line x1="422.80" y1="696" x2="422.80" y2="691.8" stroke="#2a2a2a" stroke-width="1.4"/>
<line x1="90" y1="612.80" x2="94.2" y2="612.80" stroke="#2a2a2a" stroke-width="1.4"/>
<line x1="506" y1="612.80" x2="501.8" y2="612.80" stroke="#2a2a2a" stroke-width="1.4"/>
<line x1="443.60" y1="280" x2="443.60" y2="284.2" stroke="#2a2a2a" stroke-width="1.4"/>
<line x1="443.60" y1="696" x2="443.60" y2="691.8" stroke="#2a2a2a" stroke-width="1.4"/>
<line x1="90" y1="633.60" x2="94.2" y2="633.60" stroke="#2a2a2a" stroke-width="1.4"/>
<line x1="506" y1="633.60" x2="501.8" y2="633.60" stroke="#2a2a2a" stroke-width="1.4"/>
<line x1="464.40" y1="280" x2="464.40" y2="284.2" stroke="#2a2a2a" stroke-width="1.4"/>
<line x1="464.40" y1="696" x2="464.40" y2="691.8" stroke="#2a2a2a" stroke-width="1.4"/>
<line x1="90" y1="654.40" x2="94.2" y2="654.40" stroke="#2a2a2a" stroke-width="1.4"/>
<line x1="506" y1="654.40" x2="501.8" y2="654.40" stroke="#2a2a2a" stroke-width="1.4"/>
<line x1="485.20" y1="280" x2="485.20" y2="284.2" stroke="#2a2a2a" stroke-width="1.4"/>
<line x1="485.20" y1="696" x2="485.20" y2="691.8" stroke="#2a2a2a" stroke-width="1.4"/>
<line x1="90" y1="675.20" x2="94.2" y2="675.20" stroke="#2a2a2a" stroke-width="1.4"/>
<line x1="506" y1="675.20" x2="501.8" y2="675.20" stroke="#2a2a2a" stroke-width="1.4"/>
<text x="49.00" y="287.10" font-size="13.5" stroke="#222" stroke-width="0.2" fill="#222">110</text>
<text x="49.80" y="390.75" font-size="13.5" stroke="#222" stroke-width="0.2" fill="#222">115</text>
<text x="49.00" y="493.25" font-size="13.5" stroke="#222" stroke-width="0.2" fill="#222">120</text>
<text x="49.50" y="598.90" font-size="13.5" stroke="#222" stroke-width="0.2" fill="#222">125</text>
<text x="48.90" y="700.45" font-size="13.5" stroke="#222" stroke-width="0.2" fill="#222">130</text>
<text x="79.65" y="715.00" font-size="13.5" stroke="#222" stroke-width="0.2" fill="#222">9.0</text>
<text x="289.35" y="715.60" font-size="13.5" stroke="#222" stroke-width="0.2" fill="#222">8.0</text>
<text x="496.35" y="715.25" font-size="13.5" stroke="#222" stroke-width="0.2" fill="#222">7.0</text>
<text x="303.3" y="739.2" font-size="14" textLength="61.5" lengthAdjust="spacingAndGlyphs" text-anchor="middle" fill="#222"><tspan font-size="9.5" dy="-5">1</tspan><tspan dy="5">H (ppm)</tspan></text>
<text transform="translate(36.8,492.9) rotate(-90)" font-size="14" textLength="66" lengthAdjust="spacingAndGlyphs" text-anchor="middle" fill="#222"><tspan font-size="9.5" dy="-5">15</tspan><tspan dy="5">N (ppm)</tspan></text>
</svg></body></html>
